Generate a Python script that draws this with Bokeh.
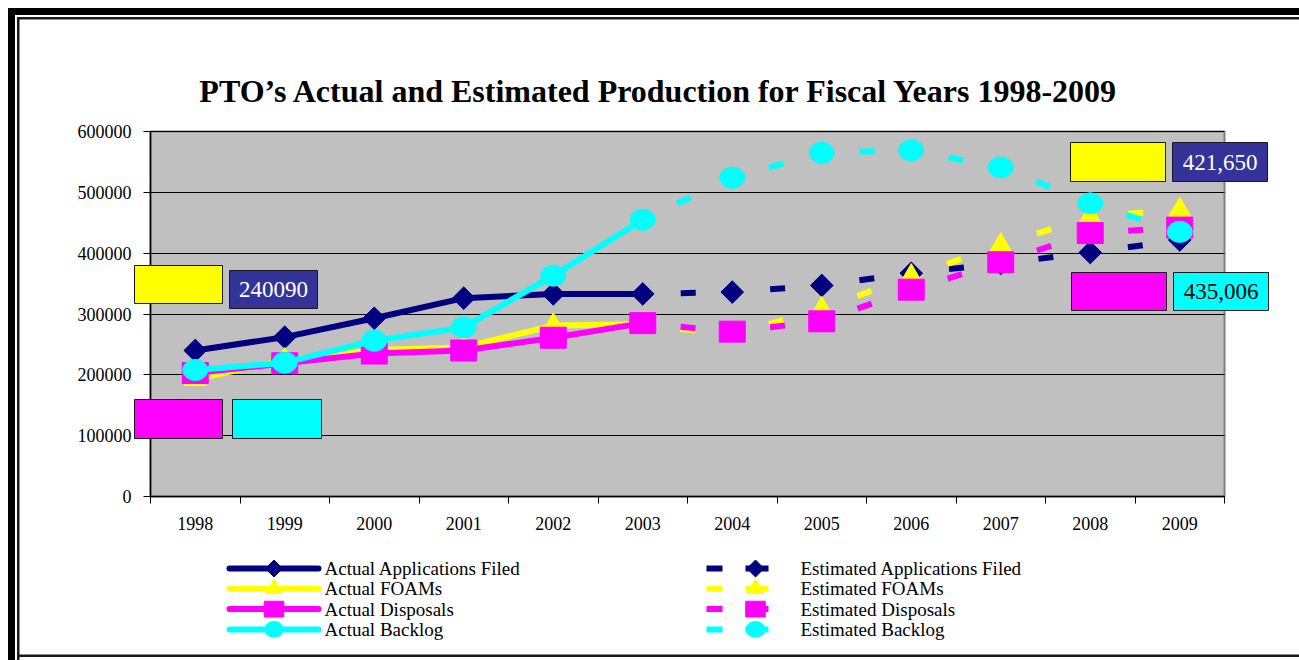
import math
from bokeh.plotting import figure
from bokeh.layouts import column
from bokeh.core.properties import value
from bokeh.models import Range1d, FixedTicker, BoxAnnotation, Label
from bokeh.embed import file_html
from bokeh.resources import INLINE

# ---------------- data ----------------
years = [1998, 1999, 2000, 2001, 2002, 2003, 2004, 2005, 2006, 2007, 2008, 2009]
actual_years = [1998, 1999, 2000, 2001, 2002, 2003]
est_years = [2003, 2004, 2005, 2006, 2007, 2008, 2009]

apps_actual = [240090, 262000, 293000, 326000, 333000, 333000]
foams_actual = [193000, 224000, 241000, 245000, 281000, 283000]
disposals_actual = [203000, 219000, 235000, 240000, 261000, 285000]
backlog_actual = [208000, 220000, 256000, 278000, 363000, 455000]

apps_est = [333000, 336000, 347000, 367000, 383000, 401000, 421650]
foams_est = [283000, 266000, 308000, 362000, 413000, 460000, 471000]
disposals_est = [285000, 271000, 288000, 340000, 385000, 433000, 442000]
backlog_est = [455000, 524000, 565000, 569000, 541000, 482000, 435006]

y_ticks = [0, 100000, 200000, 300000, 400000, 500000, 600000]

series_names = ["Applications Filed", "FOAMs", "Disposals", "Backlog"]
series_colors = ["#000080", "#FFFF00", "#FF00FF", "#00FFFF"]
series_markers = ["diamond", "triangle", "square", "circle"]
actual_values = [apps_actual, foams_actual, disposals_actual, backlog_actual]
est_values = [apps_est, foams_est, disposals_est, backlog_est]

title_text = "PTO\u2019s Actual and Estimated Production for Fiscal Years 1998-2009"

# ---------------- layout helpers ----------------
W, H = 1299, 660
H1 = 550                                      # main figure height, legend strip below
PL, PR, PT, PB = 150, 1224, 131, 496          # plot area (grey box)
FL, FR, FT, FB = 22, 1272, 50, H1             # bokeh frame of main figure
NCAT = len(years)
CATW = (PR - PL) / NCAT
YMAX = 600000
serif = "Liberation Serif"


def X(px):
    return (px - PL) / CATW


def Y(py):
    return (PB - py) / (PB - PT) * YMAX


def xpos(yr):
    return years.index(yr) + 0.5


shadow = ", ".join([
    "inset 8px 8px 0 0 #ffffff",
    "inset 15px 15px 0 0 #000000",
    "inset 17px 17px 0 0 #ffffff",
    "inset 19.5px 19.5px 0 0 #1a1a1a",
    "inset 0 -3px 0 0 #ffffff",
    "inset 0 -5.5px 0 0 #1a1a1a",
])

p = figure(width=W, height=H1, x_range=Range1d(X(FL), X(FR)), y_range=Range1d(Y(FB), Y(FT)),
           output_backend="svg", toolbar_location=None,
           min_border_left=FL, min_border_right=W - FR,
           min_border_top=FT, min_border_bottom=H1 - FB)
p.background_fill_color = "white"
p.background_fill_alpha = 0
p.border_fill_alpha = 0
p.outline_line_color = None

# grey plot area
p.quad(left=[0], right=[NCAT], bottom=[0], top=[YMAX], fill_color="#C0C0C0",
       line_color="#808080", line_width=2, level="image")

# axes (drawn at the edges of the grey plot area)
xcent = [xpos(y) for y in years]
p.xaxis.ticker = FixedTicker(ticks=xcent, minor_ticks=list(range(NCAT + 1)))
p.xaxis.major_label_overrides = {c: str(y) for c, y in zip(xcent, years)}
p.xaxis.fixed_location = 0
p.xaxis.bounds = (0, NCAT)
p.xaxis.major_tick_out = 0
p.xaxis.major_tick_in = 0
p.xaxis.minor_tick_out = 7
p.xaxis.minor_tick_in = 0
p.xaxis.minor_tick_line_color = "black"
p.xaxis.major_label_standoff = 13
p.yaxis.ticker = FixedTicker(ticks=y_ticks, minor_ticks=[])
p.yaxis.major_label_overrides = {v: str(v) for v in y_ticks}
p.yaxis.fixed_location = 0
p.yaxis.bounds = (0, YMAX)
p.yaxis.major_tick_out = 7
p.yaxis.major_tick_in = 0
p.yaxis.minor_tick_out = 0
p.yaxis.major_label_standoff = 12
for ax in (p.xaxis[0], p.yaxis[0]):
    ax.axis_line_color = "black"
    ax.axis_line_width = 1.5
    ax.major_tick_line_color = "black"
    ax.major_label_text_font = serif
    ax.major_label_text_font_size = "18px"
    ax.major_label_text_color = "black"
p.xgrid.grid_line_color = None
p.ygrid.ticker = FixedTicker(ticks=y_ticks)
p.ygrid.grid_line_color = "black"
p.ygrid.grid_line_width = 1
if "cross_bounds" in p.ygrid[0].properties():
    p.ygrid.cross_bounds = (0, NCAT)
else:
    p.ygrid.grid_line_color = None
    p.segment(x0=[0] * len(y_ticks), x1=[NCAT] * len(y_ticks), y0=y_ticks, y1=y_ticks,
              line_color="black", line_width=1, level="underlay")


def draw_markers(fig, kind, xs, ys, color, k=1.0):
    if kind == "diamond":
        return fig.scatter(xs, ys, marker="square", angle=math.pi / 4, size=16 * k,
                           fill_color=color, line_color=color)
    if kind == "triangle":
        return fig.scatter(xs, ys, marker="triangle", size=22 * k, fill_color=color,
                           line_color=color)
    if kind == "square":
        return fig.rect(xs, ys, width=26 * k, height=21 * k, width_units="screen",
                        height_units="screen", fill_color=color, line_color=color)
    return fig.ellipse(xs, ys, width=25 * k, height=21 * k, width_units="screen",
                       height_units="screen", fill_color=color, line_color=color)


ax_ = [xpos(y) for y in actual_years]
ex_ = [xpos(y) for y in est_years]
for name, color, kind, vals in zip(series_names, series_colors, series_markers, actual_values):
    p.line(ax_, vals, line_color=color, line_width=6, line_join="round")
    draw_markers(p, kind, ax_, vals, color)

for name, color, kind, vals in zip(series_names, series_colors, series_markers, est_values):
    segx = [[ex_[i], ex_[i + 1]] for i in range(len(ex_) - 1)]
    segy = [[vals[i], vals[i + 1]] for i in range(len(vals) - 1)]
    p.multi_line(segx, segy, line_color=color, line_width=6, line_dash="0 38 15 200")
    draw_markers(p, kind, ex_[1:], vals[1:], color)

# data label boxes
boxes = [
    (134, 222, 265, 303, "#FFFF00"),
    (229, 317, 270, 308, "#333399"),
    (134, 222, 399, 438, "#FF00FF"),
    (232, 321, 399, 438, "#00FFFF"),
    (1070, 1165, 142, 181, "#FFFF00"),
    (1172, 1267, 142, 181, "#333399"),
    (1071, 1166, 272, 310, "#FF00FF"),
    (1173, 1268, 272, 310, "#00FFFF"),
]
for l, r, t, b, c in boxes:
    p.add_layout(BoxAnnotation(left=X(l), right=X(r), top=Y(t), bottom=Y(b),
                               fill_color=c, fill_alpha=1, line_color="#1a1a1a",
                               line_width=1, line_alpha=1))

label_specs = [
    ((229 + 317) / 2, (270 + 308) / 2, f"{apps_actual[0]}", "white"),
    ((1172 + 1267) / 2, (142 + 181) / 2, f"{apps_est[-1]:,}", "white"),
    ((1173 + 1268) / 2, (272 + 310) / 2, f"{backlog_est[-1]:,}", "black"),
]
for cx, cy, txt, col in label_specs:
    p.add_layout(Label(x=X(cx), y=Y(cy), text=txt, text_align="center",
                       text_baseline="middle", text_color=col, text_font=serif,
                       text_font_size="23px"))

# title
p.add_layout(Label(x=X(659), y=Y(90), text=title_text, text_align="center",
                   text_baseline="middle", text_font=serif, text_font_style="bold",
                   text_font_size="32px", text_color="black"))

# ---------------- legend strip (second figure, pixel-like coordinates) ----------------
H2 = H - H1
q = figure(width=W, height=H2, x_range=Range1d(FL, FR), y_range=Range1d(H2, 0),
           x_axis_type=None, y_axis_type=None, output_backend="svg", toolbar_location=None,
           min_border_left=FL, min_border_right=W - FR, min_border_top=0, min_border_bottom=0)
q.background_fill_alpha = 0
q.border_fill_alpha = 0
q.outline_line_color = None
q.grid.visible = False

row_y = [18 + 20.3 * i for i in range(len(series_names))]
for yy, name, color, kind in zip(row_y, series_names, series_colors, series_markers):
    # actual sample
    q.line([229, 318], [yy, yy], line_color=color, line_width=6, line_cap="round")
    draw_markers(q, kind, [273.5], [yy], color, k=0.75)
    q.text([324], [yy], text=["Actual " + name], text_baseline="middle",
           text_font=value(serif), text_font_size=value("19px"), text_color="black")
    # estimated sample
    q.line([706, 722], [yy, yy], line_color=color, line_width=6)
    q.line([745, 768], [yy, yy], line_color=color, line_width=6)
    draw_markers(q, kind, [755], [yy], color, k=0.75)
    q.text([800], [yy], text=["Estimated " + name], text_baseline="middle",
           text_font=value(serif), text_font_size=value("19px"), text_color="black")

layout = column(p, q, spacing=0,
                styles={"box-shadow": shadow, "background-color": "#ffffff"})

open("out.html", "w").write(file_html(layout, INLINE))
